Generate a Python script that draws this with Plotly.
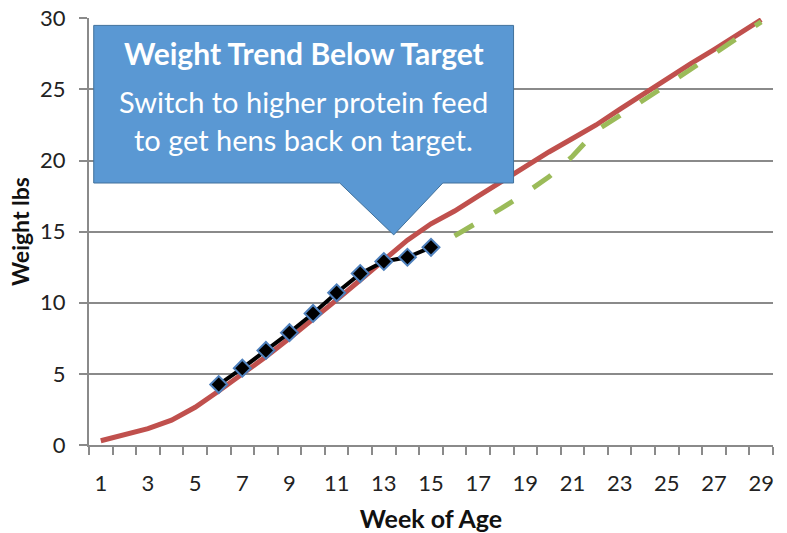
import plotly.graph_objects as go

weeks = list(range(1, 30))
target = [0.3, 0.7, 1.15, 1.75, 2.65, 3.8, 4.95, 6.2, 7.5, 8.8, 10.2, 11.6, 13.0, 14.4,
          15.55, 16.45, 17.5, 18.55, 19.65, 20.6, 21.55, 22.5, 23.6, 24.7, 25.7, 26.8,
          27.8, 28.85, 29.9]
actual_weeks = list(range(6, 16))
actual = [4.25, 5.4, 6.65, 7.9, 9.25, 10.7, 12.05, 12.9, 13.2, 13.9]
proj_weeks = list(range(16, 30))
projected = [14.7, 15.65, 16.65, 17.7, 18.85, 20.3, 22.1, 23.15, 24.2, 25.3, 26.4,
             27.5, 28.6, 29.75]
x_tick_vals = list(range(1, 30, 2))
x_tick_text = [str(v) for v in x_tick_vals]
y_tick_vals = [0, 5, 10, 15, 20, 25, 30]

callout_title = "Weight Trend Below Target"
callout_body = ["Switch to higher protein feed", "to get hens back on target."]

FONT = "Lato"
GRID = "#8a8a8a"

fig = go.Figure()
fig.add_trace(go.Scatter(x=weeks, y=target, mode="lines",
                         line=dict(color="#C0504D", width=5), hoverinfo="skip"))
fig.add_trace(go.Scatter(x=proj_weeks, y=projected, mode="lines",
                         line=dict(color="#9BBB59", width=5, dash="22px,24px"),
                         hoverinfo="skip"))
fig.add_trace(go.Scatter(x=actual_weeks, y=actual, mode="lines+markers",
                         line=dict(color="#000000", width=4),
                         marker=dict(symbol="diamond", size=13, color="#000000",
                                     line=dict(color="#4F81BD", width=2)),
                         hoverinfo="skip"))

# callout shape (data coords)
path = ("M 0.7,29.5 L 18.5,29.5 L 18.5,18.42 L 15.5,18.42 L 13.42,14.77 "
        "L 11.13,18.42 L 0.7,18.42 Z")
fig.add_shape(type="path", path=path, xref="x", yref="y", layer="above",
              fillcolor="#5A98D3", line=dict(color="#41719C", width=1))

fig.add_annotation(x=9.6, y=27.55, xref="x", yref="y", text="<b>%s</b>" % callout_title,
                   showarrow=False, font=dict(family=FONT, size=30, color="white"))
fig.add_annotation(x=9.6, y=24.15, xref="x", yref="y", text=callout_body[0],
                   showarrow=False, font=dict(family=FONT, size=29, color="white"))
fig.add_annotation(x=9.6, y=21.45, xref="x", yref="y", text=callout_body[1],
                   showarrow=False, font=dict(family=FONT, size=29, color="white"))

fig.update_layout(
    width=787, height=533,
    margin=dict(l=89, r=14, t=18, b=88),
    paper_bgcolor="white", plot_bgcolor="white",
    showlegend=False,
    font=dict(family=FONT, color="#222222"),
)
fig.update_xaxes(
    automargin=False,
    range=[0.5, 29.5], tickmode="array", tickvals=x_tick_vals, ticktext=x_tick_text,
    ticks="outside", ticklen=18, tickcolor="rgba(0,0,0,0)",
    ticklabeloverflow="allow",
    tickfont=dict(family=FONT, size=22, color="#222222"),
    showgrid=False, zeroline=False,
    showline=True, linecolor=GRID, linewidth=2,
    minor=dict(tickmode="linear", tick0=0.5, dtick=1, ticks="outside", ticklen=8,
               tickcolor=GRID, tickwidth=2, showgrid=False),
    title=dict(text="<b>Week of Age</b>", font=dict(family=FONT, size=25, color="#111111"),
               standoff=18),
)
fig.update_yaxes(
    automargin=False,
    range=[0, 30.02], tickmode="array", tickvals=y_tick_vals,
    ticks="outside", ticklen=8, tickcolor=GRID, tickwidth=2,
    ticklabelstandoff=9, ticklabeloverflow="allow",
    tickfont=dict(family=FONT, size=22, color="#222222"),
    showgrid=True, gridcolor=GRID, gridwidth=2, zeroline=False,
    showline=True, linecolor=GRID, linewidth=2,
    title=dict(text="<b>Weight lbs</b>", font=dict(family=FONT, size=23, color="#111111"),
               standoff=4),
)

# remove the default 8px page margin so the figure sits at the window's corner
fig.write_html("out.html",
               config={"displayModeBar": False, "staticPlot": True},
               post_script="document.body.style.margin='0px';"
                           "document.body.style.overflow='hidden';")
